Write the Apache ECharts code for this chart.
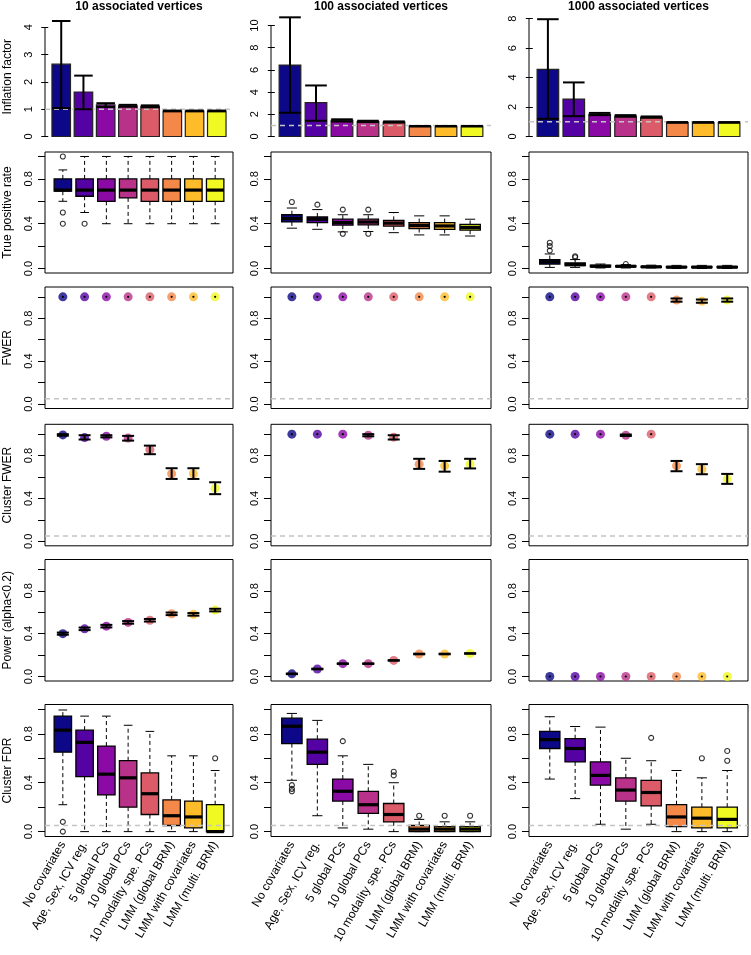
<!DOCTYPE html>
<html><head><meta charset="utf-8">
<script src="https://cdn.jsdelivr.net/npm/echarts@6/dist/echarts.min.js"></script>
<style>html,body{margin:0;padding:0;background:#fff}#c{width:751px;height:955px}</style>
</head><body><div id="c"></div>
<script>
// ---------------- DATA ----------------
const categories = ['No covariates','Age, Sex, ICV reg.','5 global PCs','10 global PCs','10 modality spe. PCs','LMM (global BRM)','LMM with covariates','LMM (multi. BRM)'];
const colTitles = ['10 associated vertices','100 associated vertices','1000 associated vertices'];
const rowTitles = ['Inflation factor','True positive rate','FWER','Cluster FWER','Power (alpha<0.2)','Cluster FDR'];
const palette = ['#0D0887','#5402A3','#8B0AA5','#B93289','#DB5C68','#F48849','#FEBC2A','#F0F921'];

// Row 1: inflation factor (bar + error bar)
const inflation10     = [2.65,1.63,1.16,1.12,1.10,0.93,0.93,0.93];
const inflation10Lo   = [1.04,1.00,1.08,1.09,1.07,0.92,0.92,0.92];
const inflation10Hi   = [4.23,2.23,1.22,1.16,1.14,0.95,0.95,0.95];
const inflation100    = [6.44,3.05,1.45,1.35,1.30,0.92,0.92,0.92];
const inflation100Lo  = [2.14,1.42,1.35,1.30,1.25,0.90,0.90,0.90];
const inflation100Hi  = [10.74,4.60,1.55,1.42,1.36,0.95,0.95,0.95];
const inflation1000   = [4.56,2.54,1.50,1.38,1.30,0.95,0.95,0.95];
const inflation1000Lo = [1.20,1.38,1.45,1.34,1.27,0.93,0.93,0.93];
const inflation1000Hi = [7.96,3.67,1.60,1.45,1.36,0.98,0.98,0.98];
const inflationTicks10   = [0,1,2,3,4];
const inflationTicks100  = [0,2,4,6,8,10];
const inflationTicks1000 = [0,2,4,6,8];

// Row 2: true positive rate boxplots [low, q1, median, q3, high]
const tpr10 = [[0.60,0.69,0.70,0.80,0.88],[0.50,0.645,0.70,0.80,1.0],[0.40,0.60,0.70,0.80,1.0],[0.40,0.63,0.70,0.80,1.0],
               [0.40,0.60,0.70,0.80,1.0],[0.40,0.60,0.70,0.80,1.0],[0.40,0.60,0.70,0.80,1.0],[0.40,0.60,0.70,0.80,1.0]];
const tpr10Out = [[1,1.0],[1,0.5],[1,0.4],[2,0.4]];
const tpr100 = [[0.36,0.416,0.446,0.48,0.54],[0.35,0.41,0.44,0.46,0.526],[0.327,0.387,0.41,0.44,0.48],[0.33,0.39,0.415,0.44,0.48],
                [0.32,0.378,0.405,0.43,0.50],[0.30,0.357,0.385,0.41,0.47],[0.30,0.35,0.38,0.41,0.47],[0.29,0.342,0.365,0.393,0.44]];
const tpr100Out = [[1,0.594],[2,0.57],[3,0.526],[3,0.31],[4,0.526],[4,0.31]];
const tpr1000 = [[0.01,0.04,0.06,0.08,0.13],[0.01,0.025,0.035,0.05,0.08],[0.005,0.015,0.02,0.03,0.04],[0.005,0.015,0.02,0.025,0.035],
                 [0.005,0.01,0.015,0.02,0.03],[0.0,0.008,0.012,0.018,0.028],[0.0,0.008,0.012,0.018,0.028],[0.0,0.008,0.012,0.018,0.028]];
const tpr1000Out = [[1,0.16],[1,0.20],[1,0.23],[2,0.10],[2,0.11],[4,0.04]];

// Row 3: FWER (point + error bar)
const fwer10     = [1,1,1,1,1,1,1,1];
const fwer10Lo   = [1,1,1,1,1,1,1,1];
const fwer10Hi   = [1,1,1,1,1,1,1,1];
const fwer100    = [1,1,1,1,1,1,1,1];
const fwer100Lo  = [1,1,1,1,1,1,1,1];
const fwer100Hi  = [1,1,1,1,1,1,1,1];
const fwer1000   = [1,1,1,1,1,0.97,0.96,0.97];
const fwer1000Lo = [1,1,1,1,1,0.955,0.945,0.955];
const fwer1000Hi = [1,1,1,1,1,0.985,0.975,0.985];

// Row 4: cluster FWER
const cfwer10     = [0.993,0.968,0.98,0.963,0.855,0.63,0.63,0.495];
const cfwer10Lo   = [0.985,0.95,0.97,0.94,0.813,0.582,0.582,0.44];
const cfwer10Hi   = [1.0,0.99,0.99,0.984,0.893,0.682,0.682,0.551];
const cfwer100    = [1,1,1,0.99,0.972,0.72,0.704,0.72];
const cfwer100Lo  = [1,1,1,0.98,0.95,0.676,0.65,0.68];
const cfwer100Hi  = [1,1,1,1.0,0.99,0.77,0.75,0.77];
const cfwer1000   = [1,1,1,0.99,1,0.704,0.673,0.582];
const cfwer1000Lo = [1,1,1,0.983,1,0.654,0.626,0.536];
const cfwer1000Hi = [1,1,1,0.997,1,0.75,0.72,0.629];

// Row 5: power (alpha<0.2)
const power10     = [0.40,0.445,0.47,0.505,0.525,0.585,0.58,0.62];
const power10Lo   = [0.39,0.433,0.458,0.493,0.513,0.573,0.568,0.608];
const power10Hi   = [0.41,0.457,0.482,0.517,0.537,0.597,0.592,0.632];
const power100    = [0.025,0.07,0.12,0.12,0.15,0.21,0.21,0.215];
const power100Lo  = [0.022,0.067,0.117,0.117,0.147,0.207,0.207,0.212];
const power100Hi  = [0.028,0.073,0.123,0.123,0.153,0.213,0.213,0.218];
const power1000   = [0,0,0,0,0,0,0,0];
const power1000Lo = [0,0,0,0,0,0,0,0];
const power1000Hi = [0,0,0,0,0,0,0,0];

// Row 6: cluster FDR boxplots [low, q1, median, q3, high]
const fdr10 = [[0.22,0.65,0.83,0.945,0.995],[0.0,0.45,0.73,0.83,0.945],[0.0,0.30,0.47,0.70,0.945],[0.0,0.20,0.44,0.58,0.87],
               [0.0,0.14,0.31,0.48,0.82],[0.0,0.05,0.13,0.26,0.62],[0.0,0.03,0.12,0.25,0.62],[0.0,0.0,0.0,0.22,0.50]];
const fdr10Out = [[1,0.08],[1,0.0],[8,0.6]];
const fdr100 = [[0.42,0.72,0.862,0.928,0.967],[0.13,0.55,0.65,0.756,0.91],[0.03,0.25,0.33,0.43,0.62],[0.02,0.15,0.22,0.33,0.55],
                [0.0,0.08,0.14,0.23,0.40],[0.0,0.0,0.02,0.05,0.10],[0.0,0.0,0.02,0.04,0.08],[0.0,0.0,0.02,0.04,0.08]];
const fdr100Out = [[1,0.38],[1,0.35],[1,0.33],[3,0.74],[5,0.46],[5,0.49],[6,0.13],[7,0.13],[8,0.13]];
const fdr1000 = [[0.43,0.68,0.753,0.82,0.94],[0.27,0.57,0.68,0.76,0.86],[0.06,0.38,0.46,0.57,0.855],[0.02,0.25,0.34,0.44,0.60],
                 [0.06,0.21,0.32,0.42,0.58],[0.0,0.04,0.12,0.22,0.50],[0.0,0.03,0.11,0.20,0.44],[0.0,0.03,0.10,0.20,0.50]];
const fdr1000Out = [[5,0.767],[7,0.60],[8,0.58],[8,0.66]];

const rateTicks  = [0,0.2,0.4,0.6,0.8,1.0];
const rateLabels = [0,0.4,0.8];

// ---------------- LAYOUT ----------------
const FONT = '"Liberation Sans", Arial, Helvetica, sans-serif';
const colLeft  = [45,271,529];
const colRight = [233,491,748];
const rowTop = [17,152,287,424.3,559.5,704.5];
const rowH   = [119.5,121,121.5,121.5,121.5,132];
const row1Max = [4.377,10.77,8.11];

const inflationSets = [[inflation10,inflation10Lo,inflation10Hi,inflationTicks10],
                       [inflation100,inflation100Lo,inflation100Hi,inflationTicks100],
                       [inflation1000,inflation1000Lo,inflation1000Hi,inflationTicks1000]];
const boxSets = {1:[[tpr10,tpr10Out],[tpr100,tpr100Out],[tpr1000,tpr1000Out]],
                 5:[[fdr10,fdr10Out],[fdr100,fdr100Out],[fdr1000,fdr1000Out]]};
const pointSets = {2:[[fwer10,fwer10Lo,fwer10Hi],[fwer100,fwer100Lo,fwer100Hi],[fwer1000,fwer1000Lo,fwer1000Hi]],
                   3:[[cfwer10,cfwer10Lo,cfwer10Hi],[cfwer100,cfwer100Lo,cfwer100Hi],[cfwer1000,cfwer1000Lo,cfwer1000Hi]],
                   4:[[power10,power10Lo,power10Hi],[power100,power100Lo,power100Hi],[power1000,power1000Lo,power1000Hi]]};
const dashedAt = {0:1, 2:0.05, 3:0.05, 5:0.05};

const grids=[], xAxes=[], yAxes=[], series=[];
const DASH = {stroke:'#c4c4c4', lineWidth:1.5, lineDash:[5,4]};

function dashedLine(g, xmin, xmax, yv){
  series.push({type:'custom', xAxisIndex:g, yAxisIndex:g, silent:true, z:5, data:[[yv]],
    renderItem:(p,api)=>{const a=api.coord([xmin,api.value(0)]), b=api.coord([xmax,api.value(0)]);
      return {type:'line', shape:{x1:a[0],y1:a[1],x2:b[0],y2:b[1]}, style:DASH};}});
}
function errorBars(g, xs, lo, hi, capPx, useUnit){
  series.push({type:'custom', xAxisIndex:g, yAxisIndex:g, silent:true, z:6,
    data: xs.map((x,i)=>[x, lo[i], hi[i]]),
    renderItem:(p,api)=>{
      const x=api.value(0), l=api.value(1), h=api.value(2);
      const a=api.coord([x,h]), b=api.coord([x,l]);
      const half = useUnit ? api.size([1,0])[0]/2 : capPx/2;
      const st={stroke:'#000', lineWidth:2};
      if (Math.abs(b[1]-a[1]) < 0.01) {
        return {type:'circle', shape:{cx:a[0], cy:a[1], r:1.1}, style:{fill:'#000'}};
      }
      return {type:'group', children:[
        {type:'line', shape:{x1:a[0],y1:a[1],x2:b[0],y2:b[1]}, style:st},
        {type:'line', shape:{x1:a[0]-half,y1:a[1],x2:a[0]+half,y2:a[1]}, style:st},
        {type:'line', shape:{x1:b[0]-half,y1:b[1],x2:b[0]+half,y2:b[1]}, style:st}]};
    }});
}

for (let r=0;r<6;r++){
  for (let c=0;c<3;c++){
    const g=r*3+c;
    const xmin = r===0 ? -0.176 : 0.18, xmax = r===0 ? 9.976 : 8.82;
    let ymin, ymax, ticks, labels, fmt;
    if (r===0){ ymin=0; ymax=row1Max[c]; ticks=inflationSets[c][3]; labels=ticks; fmt=v=>String(v); }
    else if (r===1 || r===5){ ymin=-0.04; ymax=1.04; ticks=rateTicks; labels=rateLabels; fmt=v=>v.toFixed(1); }
    else { ymin=-0.042; ymax=1.092; ticks=rateTicks; labels=rateLabels; fmt=v=>v.toFixed(1); }
    grids.push({left:colLeft[c], top:rowTop[r], width:colRight[c]-colLeft[c], height:rowH[r],
      show:r>0, borderColor:'#000', borderWidth:1, backgroundColor:'rgba(0,0,0,0)', containLabel:false, outerBoundsMode:'none'});
    xAxes.push({gridIndex:g, type:'value', min:xmin, max:xmax, show:r===5,
      axisLine:{show:false}, axisTick:{show:false}, splitLine:{show:false},
      axisLabel: r===5 ? {show:true, customValues:[1,2,3,4,5,6,7,8], formatter:v=>categories[Math.round(v)-1],
        rotate:60, margin:6, fontSize:12, color:'#000', fontFamily:FONT} : {show:false}});
    yAxes.push({gridIndex:g, type:'value', min:ymin, max:ymax,
      axisLine:{show:false}, splitLine:{show:false},
      axisTick:{show:true, length:7, customValues:ticks, lineStyle:{color:'#000', width:1}},
      axisLabel:{show:true, customValues:labels, formatter:fmt, rotate:90, margin:11, fontSize:11, color:'#000', fontFamily:FONT},
      name: c===0 ? rowTitles[r] : '', nameLocation:'middle', nameGap:31,
      nameTextStyle:{fontSize:12, color:'#000', fontFamily:FONT}});

    if (r===0){
      const [vals, lo, hi, tk] = inflationSets[c];
      const xs = vals.map((v,i)=>0.7+1.2*i);
      // axis line (R style, first to last tick)
      series.push({type:'custom', xAxisIndex:g, yAxisIndex:g, silent:true, data:[[tk[0], tk[tk.length-1]]],
        renderItem:(p,api)=>{const a=api.coord([xmin,api.value(0)]), b=api.coord([xmin,api.value(1)]);
          return {type:'line', shape:{x1:a[0],y1:a[1],x2:b[0],y2:b[1]}, style:{stroke:'#000', lineWidth:1}};}});
      series.push({type:'custom', xAxisIndex:g, yAxisIndex:g, silent:true, z:2,
        data: vals.map((v,i)=>[xs[i], v, i]),
        renderItem:(p,api)=>{const x=api.value(0), v=api.value(1), i=api.value(2);
          const a=api.coord([x-0.5,v]), b=api.coord([x+0.5,0]);
          return {type:'rect', shape:{x:a[0], y:a[1], width:b[0]-a[0], height:b[1]-a[1]},
            style:{fill:palette[i], stroke:'#222', lineWidth:1.2}};}});
      dashedLine(g, xmin, xmax, dashedAt[0]);
      errorBars(g, xs, lo, hi, 0, true);
    } else if (boxSets[r]){
      const [boxes, outs] = boxSets[r][c];
      series.push({type:'custom', xAxisIndex:g, yAxisIndex:g, silent:true, z:2,
        data: boxes.map((b,i)=>[i+1, b[0], b[1], b[2], b[3], b[4], i]),
        renderItem:(p,api)=>{
          const x=api.value(0);
          const lowP=api.coord([x,api.value(1)]), q1P=api.coord([x,api.value(2)]), mP=api.coord([x,api.value(3)]),
                q3P=api.coord([x,api.value(4)]), hiP=api.coord([x,api.value(5)]);
          const i=api.value(6);
          const hw=api.size([0.8,0])[0]/2, sw=hw/2, cx=lowP[0];
          const solid={stroke:'#000', lineWidth:1};
          const dashed={stroke:'#000', lineWidth:1, lineDash:[4,3]};
          return {type:'group', children:[
            {type:'line', shape:{x1:cx,y1:q3P[1],x2:cx,y2:hiP[1]}, style:dashed},
            {type:'line', shape:{x1:cx,y1:q1P[1],x2:cx,y2:lowP[1]}, style:dashed},
            {type:'line', shape:{x1:cx-sw,y1:hiP[1],x2:cx+sw,y2:hiP[1]}, style:solid},
            {type:'line', shape:{x1:cx-sw,y1:lowP[1],x2:cx+sw,y2:lowP[1]}, style:solid},
            {type:'rect', shape:{x:cx-hw, y:q3P[1], width:2*hw, height:Math.max(q1P[1]-q3P[1],0.5)},
              style:{fill:palette[i], stroke:'#000', lineWidth:1.3}},
            {type:'line', shape:{x1:cx-hw,y1:mP[1],x2:cx+hw,y2:mP[1]}, style:{stroke:'#000', lineWidth:3.2}}
          ]};
        }});
      series.push({type:'scatter', xAxisIndex:g, yAxisIndex:g, silent:true, z:3, symbol:'circle', symbolSize:5,
        itemStyle:{color:'rgba(255,255,255,0)', borderColor:'#000', borderWidth:1.1}, data: outs});
      if (dashedAt[r]!==undefined) dashedLine(g, xmin, xmax, dashedAt[r]);
    } else {
      const [vals, lo, hi] = pointSets[r][c];
      const xs = vals.map((v,i)=>i+1);
      if (dashedAt[r]!==undefined) dashedLine(g, xmin, xmax, dashedAt[r]);
      series.push({type:'scatter', xAxisIndex:g, yAxisIndex:g, silent:true, z:4, symbol:'circle', symbolSize:9,
        data: vals.map((v,i)=>({value:[xs[i], v], itemStyle:{color:palette[i]}}))});
      errorBars(g, xs, lo, hi, 12, false);
    }
  }
}

const titles = colTitles.map((t,c)=>({text:t, left:(colLeft[c]+colRight[c])/2, top:0, textAlign:'center', padding:[1,0,0,0],
  textStyle:{fontSize:12, fontWeight:'bold', color:'#000', fontFamily:FONT}}));

const chart = echarts.init(document.getElementById('c'), null, {renderer:'canvas', width:751, height:955});
chart.setOption({animation:false, backgroundColor:'#fff', title:titles, grid:grids, xAxis:xAxes, yAxis:yAxes, series:series});
</script></body></html>
